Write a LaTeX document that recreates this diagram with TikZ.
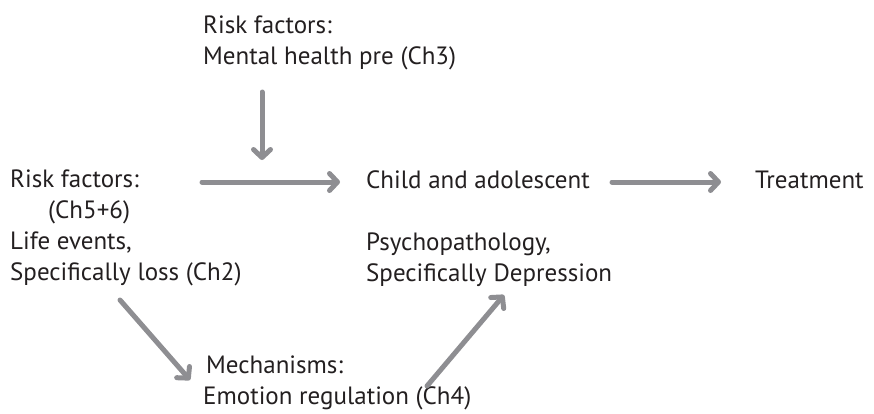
\documentclass[tikz,border=0pt]{standalone}
\usepackage{fontspec}
\setmainfont{PT Sans}
\usetikzlibrary{arrows.meta}
\definecolor{arrowgray}{RGB}{142,142,146}
\definecolor{inkblack}{RGB}{35,31,32}
\begin{document}
\begin{tikzpicture}[x=1pt,y=-1pt,
  lbl/.style={inner sep=0pt, anchor=base west, align=left, text=inkblack,
    font=\fontsize{25}{31}\selectfont},
  arr/.style={draw=arrowgray, line width=5pt, line cap=round,
    -{Straight Barb[length=8pt,width=17pt,round]}}]
  \useasboundingbox (0,0) rectangle (874,413);
  % text blocks, each placed at the baseline of its last line
  \node[lbl] (pre) at (203,64) {Risk factors:\\Mental health pre (Ch3)};
  \node[lbl] (life) at (10,280) {Risk factors:\\\hspace*{38pt}(Ch5+6)\\Life events,\\Specifically loss (Ch2)};
  \node[lbl] (child) at (366,188) {Child and adolescent};
  \node[lbl] (psy) at (366,281) {Psychopathology,\\Specifically Depression};
  \node[lbl] (treat) at (755,188) {Treatment};
  \node[lbl] (mech) at (206,404) {Mechanisms:\\\hspace*{-3pt}Emotion regulation (Ch4)};
  % arrow end points
  \coordinate (preout) at (262,92);
  \coordinate (prein) at (262,160);
  \coordinate (lifeout) at (202,182);
  \coordinate (childin) at (340,182);
  \coordinate (childout) at (612,182);
  \coordinate (treatin) at (721,182);
  \coordinate (lossout) at (120,300);
  \coordinate (mechin) at (190,380);
  \coordinate (mechout) at (427,386);
  \coordinate (psyin) at (504,295);
  % connectors
  \draw[arr] (preout) -- (prein);
  \draw[arr] (lifeout) -- (childin);
  \draw[arr] (childout) -- (treatin);
  \draw[arr] (lossout) -- (mechin);
  \draw[arr] (mechout) -- (psyin);
\end{tikzpicture}
\end{document}
